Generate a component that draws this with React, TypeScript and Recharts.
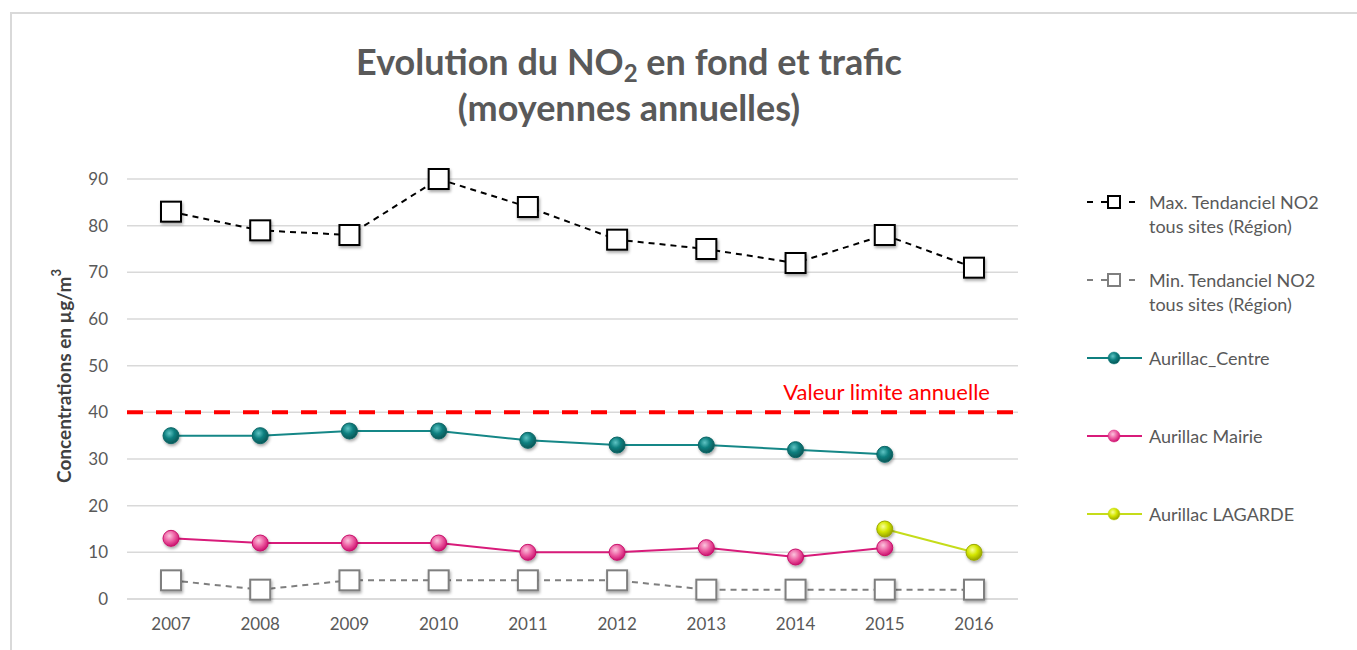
import React from "react"
import { LineChart, Line, XAxis, YAxis, CartesianGrid, ReferenceLine } from "recharts"

const years = ["2007", "2008", "2009", "2010", "2011", "2012", "2013", "2014", "2015", "2016"]
const maxRegion = [83, 79, 78, 90, 84, 77, 75, 72, 78, 71]
const minRegion = [4, 2, 4, 4, 4, 4, 2, 2, 2, 2]
const aurillacCentre = [35, 35, 36, 36, 34, 33, 33, 32, 31, null]
const aurillacMairie = [13, 12, 12, 12, 10, 10, 11, 9, 11, null]
const aurillacLagarde = [null, null, null, null, null, null, null, null, 15, 10]
const valeurLimite = 40
const yTicks = [0, 10, 20, 30, 40, 50, 60, 70, 80, 90]

const data = years.map((year, i) => ({
    year,
    max: maxRegion[i],
    min: minRegion[i],
    centre: aurillacCentre[i],
    mairie: aurillacMairie[i],
    lagarde: aurillacLagarde[i],
}))

const FONT = "Lato, 'Open Sans', sans-serif"
const TEXT = "#595959"
const GRID = "#d9d9d9"

const legendItems = [
    { lines: ["Max. Tendanciel NO2", "tous sites (Région)"], color: "#000000", kind: "square", dash: true },
    { lines: ["Min. Tendanciel NO2", "tous sites (Région)"], color: "#7f7f7f", kind: "square", dash: true },
    { lines: ["Aurillac_Centre"], color: "#0f7f7f", kind: "circle", grad: "gCentre" },
    { lines: ["Aurillac Mairie"], color: "#d81b7a", kind: "circle", grad: "gMairie" },
    { lines: ["Aurillac LAGARDE"], color: "#c5dc1a", kind: "circle", grad: "gLagarde" },
]

const squareDot = (stroke: string) => (props: any) => {
    const { cx, cy, index } = props
    if (cx == null || cy == null || props.value == null) return <g key={`s-${index}`} />
    return (
        <rect key={`s-${index}`} x={cx - 10} y={cy - 10} width={20} height={20}
            fill="#ffffff" stroke={stroke} strokeWidth={2} filter="url(#shadow)" />
    )
}

const circleDot = (grad: string, stroke: string) => (props: any) => {
    const { cx, cy, index } = props
    if (cx == null || cy == null || props.value == null) return <g key={`c-${index}`} />
    return (
        <circle key={`c-${index}`} cx={cx} cy={cy} r={8}
            fill={`url(#${grad})`} stroke={stroke} strokeWidth={1} filter="url(#shadow)" />
    )
}

function ChartLegend() {
    return (
        <div style={{ position: "absolute", left: 1085, top: 190, fontFamily: FONT, fontSize: 18, color: TEXT }}>
            {legendItems.map((item, i) => (
                <div key={i} style={{ position: "absolute", left: 0, top: i * 78, display: "flex" }}>
                    <svg width={64} height={24} style={{ flex: "none" }}>
                        <line x1={2} y1={12} x2={57} y2={12} stroke={item.color}
                            strokeWidth={2} strokeDasharray={item.dash ? "6 8" : undefined} />
                        {item.kind === "square" ? (
                            <rect x={23} y={6} width={12} height={12} fill="#fff" stroke={item.color} strokeWidth={2} />
                        ) : (
                            <circle cx={29} cy={12} r={6} fill={`url(#${item.grad})`} stroke={item.color} strokeWidth={0.5} />
                        )}
                    </svg>
                    <div style={{ lineHeight: "24px", whiteSpace: "nowrap" }}>
                        {item.lines.map((l, j) => <div key={j}>{l}</div>)}
                    </div>
                </div>
            ))}
        </div>
    )
}

export default function App() {
    return (
        <div style={{ position: "absolute", left: 0, top: 0, width: 1357, height: 650, overflow: "hidden", background: "#fff" }}>
            <div style={{ position: "absolute", left: 10, top: 12, width: 1400, height: 700, border: `2px solid ${GRID}` }} />
            <div style={{ position: "absolute", left: 0, top: 38, width: 1258, textAlign: "center", fontFamily: FONT, fontWeight: 700, fontSize: 36, color: TEXT, lineHeight: "46px" }}>
                <div>Evolution du NO<sub style={{ fontSize: 24, verticalAlign: "-7px", lineHeight: 0 }}>2</sub> en fond et trafic</div>
                <div>(moyennes annuelles)</div>
            </div>
            <svg width={0} height={0} style={{ position: "absolute" }}>
                <defs>
                    <radialGradient id="gCentre" cx="40%" cy="35%" r="65%">
                        <stop offset="0%" stopColor="#5fc4c4" />
                        <stop offset="50%" stopColor="#0f8080" />
                        <stop offset="100%" stopColor="#055757" />
                    </radialGradient>
                    <radialGradient id="gMairie" cx="40%" cy="35%" r="65%">
                        <stop offset="0%" stopColor="#fbc4dd" />
                        <stop offset="55%" stopColor="#ec5aa0" />
                        <stop offset="100%" stopColor="#cc1470" />
                    </radialGradient>
                    <radialGradient id="gLagarde" cx="40%" cy="35%" r="65%">
                        <stop offset="0%" stopColor="#f8ff9a" />
                        <stop offset="50%" stopColor="#d4e600" />
                        <stop offset="100%" stopColor="#97a300" />
                    </radialGradient>
                    <filter id="shadow" x="-50%" y="-50%" width="200%" height="200%">
                        <feDropShadow dx="1" dy="2" stdDeviation="1.5" floodColor="#000" floodOpacity="0.35" />
                    </filter>
                </defs>
            </svg>
            <div style={{ position: "absolute", left: 0, top: 0 }}>
                <LineChart width={1357} height={650} data={data} margin={{ top: 179, right: 339, bottom: 21, left: 0 }}>
                    <CartesianGrid vertical={false} stroke={GRID} strokeWidth={1.5} />
                    <XAxis
                        dataKey="year"
                        height={30}
                        padding={{ left: 44, right: 44 }}
                        axisLine={{ stroke: GRID, strokeWidth: 1.5 }}
                        tickLine={false}
                        tickMargin={13}
                        tick={{ fill: TEXT, fontSize: 17, fontFamily: FONT }}
                    />
                    <YAxis
                        width={127}
                        domain={[0, 90]}
                        ticks={yTicks}
                        axisLine={false}
                        tickLine={false}
                        tickMargin={13}
                        tick={{ fill: TEXT, fontSize: 17, fontFamily: FONT }}
                        label={{
                            content: ({ viewBox }: any) => {
                                const x = viewBox.x + 63
                                const y = viewBox.y + viewBox.height / 2 - 13
                                return (
                                    <text x={x} y={y} transform={`rotate(-90 ${x} ${y})`} textAnchor="middle" dominantBaseline="central"
                                        fill="#404040" fontSize={19} fontWeight={700} fontFamily={FONT}>
                                        Concentrations en µg/m<tspan dy={-7} fontSize={13}>3</tspan>
                                    </text>
                                )
                            },
                        }}
                    />
                    <ReferenceLine
                        y={valeurLimite}
                        stroke="#ff0000"
                        strokeWidth={4}
                        strokeDasharray="16 13"
                        label={{
                            content: ({ viewBox }: any) => (
                                <text x={viewBox.x + viewBox.width - 28} y={viewBox.y - 12} textAnchor="end"
                                    fill="#ff0000" fontSize={22} fontFamily={FONT}>
                                    Valeur limite annuelle
                                </text>
                            ),
                        }}
                    />
                    <Line type="linear" dataKey="max" name="Max. Tendanciel NO2 tous sites (Région)" stroke="#000000" strokeWidth={2}
                        strokeDasharray="6 5" dot={squareDot("#000000")} isAnimationActive={false} />
                    <Line type="linear" dataKey="min" name="Min. Tendanciel NO2 tous sites (Région)" stroke="#7f7f7f" strokeWidth={2}
                        strokeDasharray="6 5" dot={squareDot("#7f7f7f")} isAnimationActive={false} />
                    <Line type="linear" dataKey="centre" name="Aurillac_Centre" stroke="#158787" strokeWidth={2}
                        dot={circleDot("gCentre", "#0a6666")} isAnimationActive={false} />
                    <Line type="linear" dataKey="mairie" name="Aurillac Mairie" stroke="#d81b7a" strokeWidth={2}
                        dot={circleDot("gMairie", "#c8106a")} isAnimationActive={false} />
                    <Line type="linear" dataKey="lagarde" name="Aurillac LAGARDE" stroke="#c5dc1a" strokeWidth={2}
                        dot={circleDot("gLagarde", "#9aa800")} isAnimationActive={false} />
                </LineChart>
            </div>
            <ChartLegend />
        </div>
    )
}
